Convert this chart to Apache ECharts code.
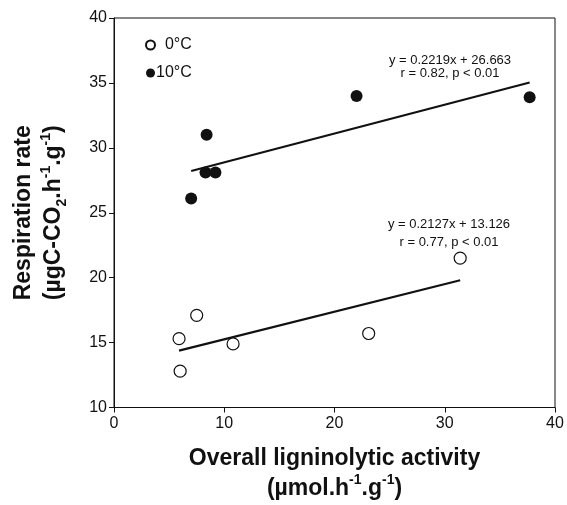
<!DOCTYPE html>
<html>
<head>
<meta charset="utf-8">
<script src="https://cdn.jsdelivr.net/npm/echarts@6/dist/echarts.min.js"></script>
<style>
  html, body { margin: 0; padding: 0; background: #fff; }
  #chart { width: 567px; height: 505px; }
</style>
</head>
<body>
<div id="chart"></div>
<script>
// Respiration rate vs. overall ligninolytic activity at two incubation temperatures
const seriesNames = ['0°C', '10°C'];
const activity0 = [5.9, 6.0, 7.5, 10.8, 23.1, 31.4];
const resp0 = [15.3, 12.8, 17.1, 14.9, 15.7, 21.5];
const activity10 = [7.0, 8.4, 8.3, 9.2, 22.0, 37.7];
const resp10 = [26.1, 31.0, 28.1, 28.1, 34.0, 33.9];

// Linear regression results for each temperature
const slopes = [0.2127, 0.2219];
const intercepts = [13.126, 26.663];
const rValues = [0.77, 0.82];
const pLabel = 'p < 0.01';

const xTicks = [0, 10, 20, 30, 40];
const yTicks = [10, 15, 20, 25, 30, 35, 40];

function pairs(xs, ys) { return xs.map((x, i) => [x, ys[i]]); }
function fitLine(xs, k) {
  const lo = Math.min(...xs), hi = Math.max(...xs);
  return [[lo, slopes[k] * lo + intercepts[k]], [hi, slopes[k] * hi + intercepts[k]]];
}
function eqText(k) {
  return 'y = ' + slopes[k].toFixed(4) + 'x + ' + intercepts[k].toFixed(3);
}
function rText(k) {
  return 'r = ' + rValues[k].toFixed(2) + ', ' + pLabel;
}

const chart = echarts.init(document.getElementById('chart'), null, { renderer: 'canvas' });
const FONT = '"Liberation Sans", Arial, Helvetica, sans-serif';
const ink = '#111';

const titleRich = {
  t: { fontFamily: FONT, fontSize: 23, fontWeight: 'bold', color: ink, lineHeight: 30 },
  s: { fontFamily: FONT, fontSize: 14, fontWeight: 'bold', color: ink, verticalAlign: 'top', lineHeight: 30, padding: [0, 0, 9, 0] },
  b: { fontFamily: FONT, fontSize: 14, fontWeight: 'bold', color: ink, verticalAlign: 'bottom', lineHeight: 30, padding: [7, 0, 0, 0] }
};

chart.setOption({
  animation: false,
  backgroundColor: '#fff',
  textStyle: { fontFamily: FONT, color: ink },
  grid: {
    left: 114, right: 12, top: 18, bottom: 97,
    show: true, borderColor: ink, borderWidth: 1, backgroundColor: 'transparent'
  },
  legend: {
    orient: 'vertical',
    left: 140, top: 32,
    itemWidth: 9, itemHeight: 9, itemGap: 12,
    data: seriesNames,
    formatter: n => (n === seriesNames[0] ? '  ' + n : n),
    textStyle: { fontFamily: FONT, fontSize: 16, color: ink, padding: [0, 0, 0, -4] }
  },
  xAxis: {
    type: 'value', min: 0, max: 40, interval: 10,
    name: '{t|Overall ligninolytic activity}\n{t|(µmol.h}{s|-1}{t|.g}{s|-1}{t|)}',
    nameLocation: 'middle', nameGap: 36,
    nameTextStyle: { rich: titleRich },
    axisLine: { lineStyle: { color: ink, width: 1 } },
    axisTick: { show: true, length: 5, lineStyle: { color: ink } },
    axisLabel: { fontFamily: FONT, fontSize: 16, color: ink, margin: 8,
      formatter: v => (xTicks.includes(v) ? String(v) : '') },
    splitLine: { show: false }
  },
  yAxis: {
    type: 'value', min: 10, max: 40, interval: 5,
    name: '{t|Respiration rate}\n{t|(µgC-CO}{b|2}{t|.h}{s|-1}{t|.g}{s|-1}{t|)}',
    nameLocation: 'middle', nameGap: 45, nameRotate: 90,
    nameTextStyle: { rich: titleRich },
    axisLine: { show: true, lineStyle: { color: ink, width: 1 } },
    axisTick: { show: true, length: 5, lineStyle: { color: ink } },
    axisLabel: { fontFamily: FONT, fontSize: 16, color: ink, margin: 7,
      formatter: v => (yTicks.includes(v) ? String(v) : '') },
    splitLine: { show: false }
  },
  series: [
    {
      name: seriesNames[0], type: 'scatter', symbol: 'circle', symbolSize: 12,
      itemStyle: { color: '#fff', borderColor: ink, borderWidth: 1.2, opacity: 1 },
      data: pairs(activity0, resp0), z: 4
    },
    {
      name: seriesNames[1], type: 'scatter', symbol: 'circle', symbolSize: 12,
      itemStyle: { color: ink, borderColor: ink, borderWidth: 0, opacity: 1 },
      data: pairs(activity10, resp10), z: 4
    },
    {
      name: 'fit0', type: 'line', data: fitLine(activity0, 0), symbol: 'none',
      lineStyle: { color: ink, width: 2.2 }, z: 3, silent: true
    },
    {
      name: 'fit10', type: 'line', data: fitLine(activity10, 1), symbol: 'none',
      lineStyle: { color: ink, width: 2.2 }, z: 3, silent: true
    }
  ],
  graphic: [
    { type: 'text', x: 450, y: 60, style: { text: eqText(1), font: '13px ' + FONT, fill: ink, textAlign: 'center', textVerticalAlign: 'middle' } },
    { type: 'text', x: 450, y: 73, style: { text: rText(1), font: '13px ' + FONT, fill: ink, textAlign: 'center', textVerticalAlign: 'middle' } },
    { type: 'text', x: 449, y: 224, style: { text: eqText(0), font: '13px ' + FONT, fill: ink, textAlign: 'center', textVerticalAlign: 'middle' } },
    { type: 'text', x: 449, y: 242, style: { text: rText(0), font: '13px ' + FONT, fill: ink, textAlign: 'center', textVerticalAlign: 'middle' } }
  ]
});
</script>
</body>
</html>
